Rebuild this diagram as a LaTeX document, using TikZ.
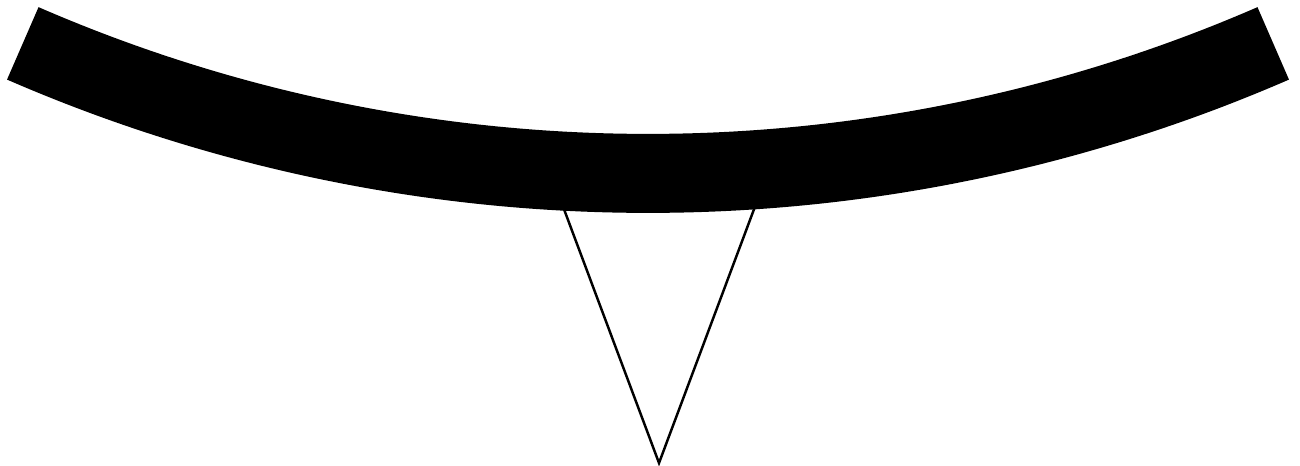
\documentclass[tikz,border=0pt]{standalone}
\usepackage{tikz}
\usetikzlibrary{calc}
\tikzset{
  band/.style={
    fill=black,
    draw=none
  },
  wedge/.style={
    draw=black,
    line width=0.7pt,
    line join=miter,
    fill=white
  }
}
\begin{document}
\begin{tikzpicture}
\useasboundingbox (0,0) rectangle (13,4.66);
\coordinate (ctr) at (6.48,18.605);
\coordinate (tip) at (6.59,0.03);
\coordinate (wl) at (5.624,2.61);
\coordinate (wr) at (7.556,2.61);

% wedge below the band
\draw[wedge] (wl) -- (tip) -- (wr) -- cycle;

% curved band
\fill[band] ($(ctr)+(246.5:15.285)$) arc[start angle=246.5, end angle=293.5, radius=15.285]
  -- ($(ctr)+(293.5:16.075)$) arc[start angle=293.5, end angle=246.5, radius=16.075] -- cycle;
\end{tikzpicture}
\end{document}
